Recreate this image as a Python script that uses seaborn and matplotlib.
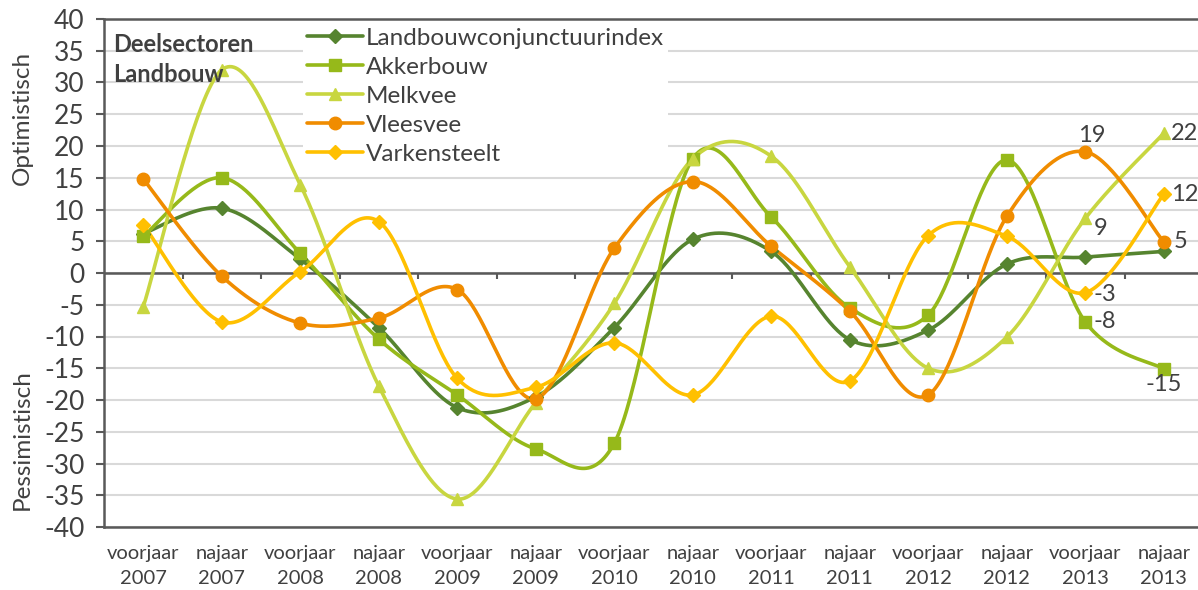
import matplotlib.pyplot as plt
import numpy as np
import seaborn as sns
from matplotlib.lines import Line2D

periods = ['voorjaar\n2007', 'najaar\n2007', 'voorjaar\n2008', 'najaar\n2008',
           'voorjaar\n2009', 'najaar\n2009', 'voorjaar\n2010', 'najaar\n2010',
           'voorjaar\n2011', 'najaar\n2011', 'voorjaar\n2012', 'najaar\n2012',
           'voorjaar\n2013', 'najaar\n2013']

landbouw = [6.2, 10.2, 2.2, -8.6, -21.2, -19.5, -8.6, 5.3, 3.4, -10.5, -9.0, 1.4, 2.5, 3.4]
akkerbouw = [5.8, 15.0, 3.1, -10.4, -19.2, -27.7, -26.8, 18.0, 8.8, -5.5, -6.6, 17.8, -7.7, -15.1]
melkvee = [-5.3, 32.0, 13.9, -17.8, -35.6, -20.4, -4.8, 18.0, 18.4, 1.0, -15.0, -10.1, 8.6, 22.0]
vleesvee = [14.8, -0.5, -7.9, -7.1, -2.6, -19.8, 3.9, 14.4, 4.2, -6.0, -19.2, 8.9, 19.1, 4.9]
varkensteelt = [7.6, -7.7, 0.2, 8.1, -16.6, -18.0, -11.0, -19.2, -6.8, -17.0, 5.9, 5.8, -3.1, 12.4]

series = [
    ('Landbouwconjunctuurindex', landbouw, '#56842f', 'D', 7.0),
    ('Akkerbouw', akkerbouw, '#96b91a', 's', 8.0),
    ('Melkvee', melkvee, '#c8d640', '^', 9.0),
    ('Vleesvee', vleesvee, '#f08c00', 'o', 9.0),
    ('Varkensteelt', varkensteelt, '#ffc000', 'D', 7.0),
]

# labels shown at the last two points: (series, index, text, offset in points, ha, va)
data_labels = [
    (melkvee, 13, '22', (5, 0), 'left', 'center'),
    (varkensteelt, 13, '12', (5, 0), 'left', 'center'),
    (vleesvee, 13, '5', (7, 0), 'left', 'center'),
    (akkerbouw, 13, '-15', (0, -4), 'center', 'top'),
    (vleesvee, 12, '19', (5, 4), 'center', 'bottom'),
    (melkvee, 12, '9', (6, -7), 'left', 'center'),
    (varkensteelt, 12, '-3', (6, -1), 'left', 'center'),
    (akkerbouw, 12, '-8', (6, 0), 'left', 'center'),
]


def smooth(values, steps=40):
    # Excel-like smoothed line: cubic Bezier through every point
    pts = np.column_stack([np.arange(len(values), dtype=float), np.asarray(values, float)])
    t = np.linspace(0, 1, steps)[1:, None]
    out = [pts[:1]]
    n = len(pts)
    for i in range(n - 1):
        p0, p1, p2, p3 = pts[max(i - 1, 0)], pts[i], pts[i + 1], pts[min(i + 2, n - 1)]
        c1 = p1 + (p2 - p0) / 6
        c2 = p2 - (p3 - p1) / 6
        out.append((1 - t) ** 3 * p1 + 3 * (1 - t) ** 2 * t * c1 + 3 * (1 - t) * t ** 2 * c2 + t ** 3 * p2)
    return np.vstack(out)


sns.set_theme(style='white')
plt.rcParams['font.family'] = ['Lato', 'DejaVu Sans']
plt.rcParams['axes.unicode_minus'] = False
text_color = '#404040'
axis_color = '#595959'

fig = plt.figure(figsize=(11.98, 5.90), dpi=100)
ax = fig.add_axes([104 / 1198, 1 - 527 / 590, 1099 / 1198, 508 / 590])

x = np.arange(len(periods))
for name, values, color, marker, ms in series:
    curve = smooth(values)
    sns.lineplot(x=curve[:, 0], y=curve[:, 1], sort=False, estimator=None,
                 color=color, linewidth=2.6, ax=ax, zorder=3)
    ax.plot(x, values, linestyle='none', marker=marker, markersize=ms,
            color=color, markeredgecolor=color, zorder=4)

for values, idx, txt, off, ha, va in data_labels:
    ax.annotate(txt, (idx, values[idx]), xytext=off, textcoords='offset points',
                ha=ha, va=va, fontsize=17, color=text_color, zorder=6)

ax.set_xlim(-0.5, len(periods) - 0.5)
ax.set_ylim(-40, 40)
ax.set_yticks(range(-40, 41, 5))
ax.yaxis.grid(True, color='#d9d9d9', linewidth=1.5)
ax.set_axisbelow(True)
ax.set_xticks(x)
ax.set_xticklabels(periods, fontsize=14.5, color=text_color, linespacing=1.55)
ax.tick_params(axis='x', length=0, pad=13)
ax.tick_params(axis='y', labelsize=19, labelcolor=text_color, length=6,
               width=1.5, color=axis_color, direction='out', left=True, pad=8)

for side in ['left', 'top', 'bottom']:
    ax.spines[side].set_color(axis_color)
    ax.spines[side].set_linewidth(1.8)
ax.spines['right'].set_visible(False)

# horizontal category axis crossing at 0, with tick marks between categories
ax.axhline(0, color=axis_color, linewidth=1.8, zorder=2)
tick_len = 6 / (508 / 80)
ax.vlines(x[:-1] + 0.5, -tick_len, 0, color=axis_color, linewidth=1.5, zorder=2)

handles = [Line2D([], [], color=c, linewidth=2.6, marker=m, markersize=ms,
                  markeredgecolor=c) for _, _, c, m, ms in series]
leg = ax.legend(handles, [s[0] for s in series], loc='upper left',
                bbox_to_anchor=(303 / 1198, 1 - 24 / 590), bbox_transform=fig.transFigure,
                frameon=True, facecolor='white', edgecolor='none', framealpha=1,
                fontsize=17.5, handlelength=2.3, handletextpad=0.15, labelspacing=0.33,
                borderpad=0.15, borderaxespad=0)
leg.set_zorder(5)
for t in leg.get_texts():
    t.set_color(text_color)

ax.text(0.008, 0.972, 'Deelsectoren\nLandbouw', transform=ax.transAxes, ha='left', va='top',
        fontsize=17, fontweight='bold', color=text_color, linespacing=1.35, zorder=6)

fig.text(22 / 1198, 1 - 118 / 590, 'Optimistisch', rotation=90, ha='center', va='center',
         fontsize=17.5, color=text_color)
fig.text(22 / 1198, 1 - 440 / 590, 'Pessimistisch', rotation=90, ha='center', va='center',
         fontsize=17.5, color=text_color)

fig.savefig('out.png', dpi=100)
